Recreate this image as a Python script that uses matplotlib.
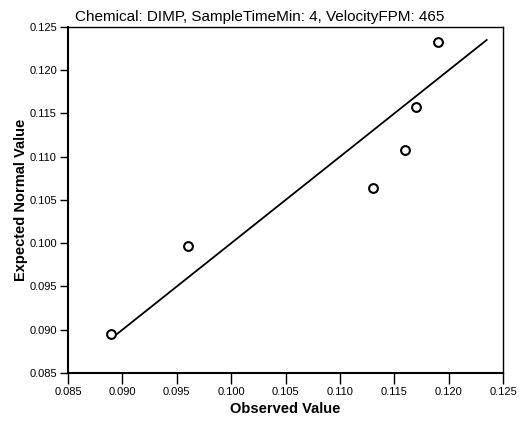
import numpy as np
import matplotlib.pyplot as plt

plt.rcParams['font.family'] = ['Liberation Sans', 'DejaVu Sans']

# normal probability plot data
observed = [0.089, 0.096, 0.113, 0.116, 0.117, 0.119]
expected = [0.0895, 0.0997, 0.1064, 0.1108, 0.1158, 0.1233]
line_x = [0.089, 0.1235]
ticks = [0.085, 0.090, 0.095, 0.100, 0.105, 0.110, 0.115, 0.120, 0.125]

fig = plt.figure(figsize=(5.22, 4.22), dpi=100)
ax = fig.add_axes([68/522, 1 - 373/422, 435/522, 346/422])

ax.plot(line_x, line_x, color='black', lw=1.3, zorder=2)
ax.scatter(observed, expected, s=40, facecolors='white', edgecolors='black',
           linewidths=1.5, zorder=3)

ax.set_xlim(0.085, 0.125)
ax.set_ylim(0.085, 0.125)
ax.set_xticks(ticks)
ax.set_yticks(ticks)
ax.set_xticklabels(['%.3f' % t for t in ticks], fontsize=8)
ax.set_yticklabels(['%.3f' % t for t in ticks], fontsize=8)
ax.tick_params(axis='x', direction='out', length=8, width=1, pad=2)
ax.tick_params(axis='y', direction='out', length=6, width=1, pad=2)
for s in ['left', 'bottom']:
    ax.spines[s].set_linewidth(1.5)
for s in ['right', 'top']:
    ax.spines[s].set_linewidth(1.0)

ax.set_xlabel('Observed Value', fontsize=10.5, fontweight='bold', labelpad=4)
ax.set_ylabel('Expected Normal Value', fontsize=10.5, fontweight='bold', labelpad=1)
ax.text(0.44, 1.01, 'Chemical: DIMP, SampleTimeMin: 4, VelocityFPM: 465',
        transform=ax.transAxes, ha='center', va='bottom', fontsize=11)

fig.savefig('out.png', dpi=100)
